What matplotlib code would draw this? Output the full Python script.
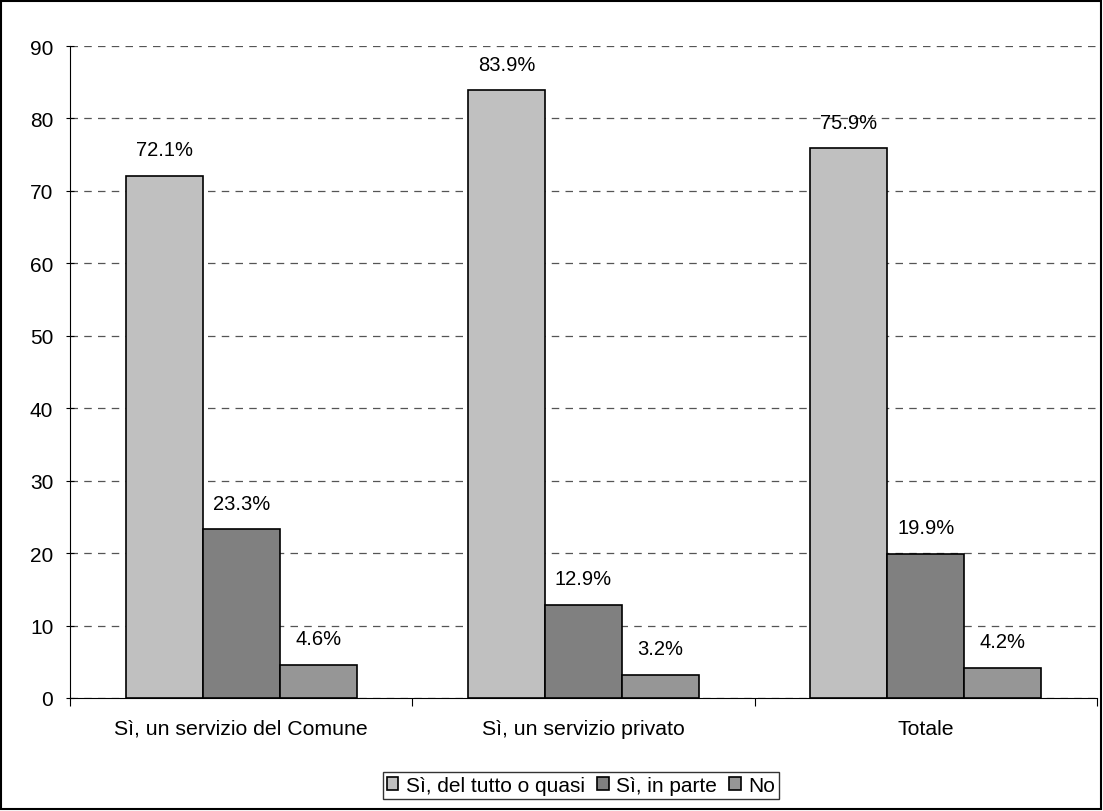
import numpy as np
import matplotlib.pyplot as plt
from matplotlib.patches import Rectangle

plt.rcParams['font.family'] = ['Liberation Sans', 'DejaVu Sans']

categories = ['Sì, un servizio del Comune', 'Sì, un servizio privato', 'Totale']
series = ['Sì, del tutto o quasi', 'Sì, in parte', 'No']
values = [
    [72.1, 83.9, 75.9],
    [23.3, 12.9, 19.9],
    [4.6, 3.2, 4.2],
]
colors = ['#c0c0c0', '#808080', '#969696']

fig = plt.figure(figsize=(11.03, 8.12), dpi=100)
ax = fig.add_axes([0.0635, 0.1392, 0.9311, 0.8029])
fig.patches.append(Rectangle((0.001, 0.002), 0.997, 0.996, transform=fig.transFigure,
                             fill=False, edgecolor='black', linewidth=1.5))

x = np.arange(len(categories)) + 0.5
w = 0.225
for i, (name, vals) in enumerate(zip(series, values)):
    pos = x + (i - 1) * w
    ax.bar(pos, vals, width=w, color=colors[i], edgecolor='black', linewidth=1.2,
           label=name, zorder=3)
    for p, v in zip(pos, vals):
        ax.text(p, v + 3.6, f'{v}%', ha='center', va='center', fontsize=14.5)

ax.set_xlim(0, 3)
ax.set_ylim(0, 90)
ax.set_yticks(range(0, 91, 10))
ax.yaxis.grid(True, linestyle=(0, (6, 5)), color='#555555', linewidth=0.9, zorder=0)
ax.set_xticks([0, 1, 2, 3])
ax.set_xticklabels([])
ax.set_xticks(x, minor=True)
ax.set_xticklabels(categories, minor=True, fontsize=15.3)
ax.tick_params(axis='x', which='minor', length=0, pad=15)
ax.tick_params(axis='x', which='major', length=6, direction='out')
ax.tick_params(axis='y', length=6, direction='inout', labelsize=15, pad=9)
for s in ['top', 'right']:
    ax.spines[s].set_visible(False)

leg = ax.legend(loc='upper left', bbox_to_anchor=(0.3045, -0.1135), ncol=3, fontsize=15,
                frameon=True, fancybox=False, edgecolor='black', handlelength=0.55,
                handleheight=0.55, handletextpad=0.35, columnspacing=0.6,
                borderpad=0.2, borderaxespad=0)
leg.get_frame().set_linewidth(1.0)

fig.savefig('out.png', dpi=100)
